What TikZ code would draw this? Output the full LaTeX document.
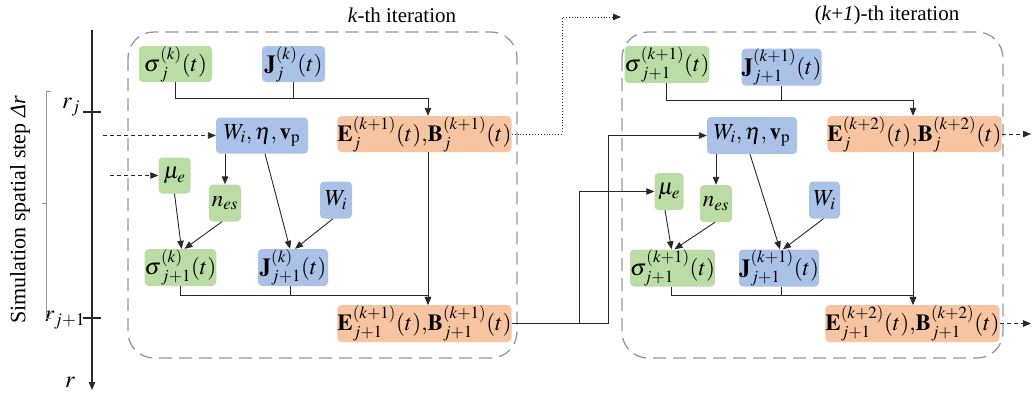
\documentclass[tikz,border=0pt]{standalone}
\usepackage{amsmath}
\usepackage{mathptmx}
\usepackage[no-math]{fontspec}
\setmainfont{Liberation Serif}
\usetikzlibrary{arrows.meta}
\definecolor{gfill}{RGB}{188,220,166}
\definecolor{bfill}{RGB}{170,194,232}
\definecolor{ofill}{RGB}{247,196,162}
\definecolor{lcol}{RGB}{40,40,40}
\definecolor{pcol}{RGB}{150,150,150}
\begin{document}
\begin{tikzpicture}[x=1pt,y=-1pt,
  every node/.style={font=\fontsize{21}{25}\selectfont, inner sep=0pt},
  bx/.style={rounded corners=4pt, draw=none, inner sep=0pt, font=\fontsize{23}{27}\selectfont},
  gbox/.style={bx, fill=gfill},
  bbox/.style={bx, fill=bfill},
  obox/.style={bx, fill=ofill},
  line/.style={draw=lcol, line width=0.9pt},
  arr/.style={line, -{Triangle[length=8pt,width=6.5pt]}},
  dasharr/.style={draw=lcol, line width=0.9pt, dash pattern=on 4pt off 3pt, -{Triangle[length=8pt,width=6.5pt]}},
  dotarr/.style={draw=lcol, line width=0.9pt, dotted, -{Triangle[length=8pt,width=6.5pt]}},
  panel/.style={draw=pcol, line width=1.3pt, dash pattern=on 13pt off 7pt, rounded corners=26pt}]
\useasboundingbox (0,0) rectangle (1033,400);

% panels
\draw[panel] (128,32) rectangle (517,358);
\draw[panel] (622,32) rectangle (1003,358);
\node (t1) at (402,15) {\textit{k}-th iteration};
\node (t2) at (887,15) {(\textit{k}+\textit{1})-th iteration};

% axis
\coordinate (ax0) at (92,30);
\coordinate (ax1) at (92,390);
\draw[arr, line width=1.3pt] (ax0) -- (ax1);
\draw[line, line width=1.3pt] (83,112) -- (101,112);
\draw[line, line width=1.3pt] (83,318) -- (101,318);
\node[font=\fontsize{24}{28}\selectfont] (rj) at (71,107) {$r_j$};
\node[font=\fontsize{24}{28}\selectfont] (rj1) at (65,320) {$r_{j+1}$};
\node[font=\fontsize{24}{28}\selectfont] (rr) at (70,382) {$r$};
\draw[pcol, line width=0.9pt] (51,91) -- (46,91) -- (46,318) -- (51,318);
\draw[pcol, line width=0.9pt] (46,203) -- (42,203);
\node[rotate=90, font=\fontsize{22}{26}\selectfont] (lab) at (20,210) {Simulation spatial step \textit{Δr}};

% left panel nodes
\node[gbox, minimum width=73pt, minimum height=36pt] (s1) at (175.5,64) {$\boldsymbol{\sigma}^{(k)}_{j}(t)$};
\node[bbox, minimum width=63pt, minimum height=36pt] (j1) at (293.5,64) {$\mathbf{J}^{(k)}_{j}(t)$};
\node[obox, minimum width=165pt, minimum height=36pt] (e1) at (424.5,134) {$\mathbf{E}^{(k+1)}_{j}(t){,}\mathbf{B}^{(k+1)}_{j}(t)$};
\node[bbox, minimum width=92pt, minimum height=36pt] (w1) at (262,135.5) {$W_i,\eta,\mathbf{v}_{\mathrm{p}}$};
\node[gbox, minimum width=32pt, minimum height=36pt] (mu1) at (174.5,175.5) {$\mu_{e}$};
\node[gbox, minimum width=32pt, minimum height=37pt] (n1) at (225,203) {$n_{es}$};
\node[bbox, minimum width=32pt, minimum height=37pt] (wi1) at (336,200) {$W_i$};
\node[gbox, minimum width=69pt, minimum height=37pt] (s2) at (180.5,267.5) {$\boldsymbol{\sigma}^{(k)}_{j+1}(t)$};
\node[bbox, minimum width=70pt, minimum height=37pt] (j2) at (293,267.5) {$\mathbf{J}^{(k)}_{j+1}(t)$};
\node[obox, minimum width=165pt, minimum height=37pt] (e2) at (424.5,323.5) {$\mathbf{E}^{(k+1)}_{j+1}(t){,}\mathbf{B}^{(k+1)}_{j+1}(t)$};

% left panel connectors
\coordinate (h1) at (428,98);
\coordinate (h2) at (428,295);
\draw[arr] (s1.south) |- (h1) -- (h1 |- e1.north);
\draw[line] (j1.south) -- (j1.south |- h1);
\coordinate (in1) at (103,135.5);
\coordinate (in2) at (110,175.5);
\draw[dasharr] (in1) -- (w1.west);
\draw[dasharr] (in2) -- (mu1.west);
\draw[arr] (w1.south -| n1.north) -- (n1.north);
\draw[arr] ([xshift=3pt]w1.south) -- ([xshift=-3pt]j2.north);
\draw[arr] (mu1.south) -- ([xshift=1pt]s2.north);
\draw[arr] ([xshift=-3pt]n1.south) -- ([xshift=4pt]s2.north);
\draw[arr] ([xshift=-3pt]wi1.south) -- ([xshift=2pt]j2.north);
\draw[arr] (h1 |- e1.south) -- (h1 |- e2.north);
\draw[arr] (s2.south) |- (h2) -- (h2 |- e2.north);
\draw[line] ([xshift=-3pt]j2.south) -- ([xshift=-3pt]j2.south |- h2);

% right panel nodes
\node[gbox, minimum width=72pt, minimum height=37pt] (s3) at (667,64.5) {$\boldsymbol{\sigma}^{(k+1)}_{j+1}(t)$};
\node[bbox, minimum width=72pt, minimum height=37pt] (j3) at (781.5,67) {$\mathbf{J}^{(k+1)}_{j+1}(t)$};
\node[obox, minimum width=161pt, minimum height=36pt] (e3) at (914.5,134) {$\mathbf{E}^{(k+2)}_{j}(t){,}\mathbf{B}^{(k+2)}_{j}(t)$};
\node[bbox, minimum width=90pt, minimum height=37pt] (w3) at (752,135.5) {$W_i,\eta,\mathbf{v}_{\mathrm{p}}$};
\node[gbox, minimum width=29pt, minimum height=37pt] (mu3) at (669,191.5) {$\mu_{e}$};
\node[gbox, minimum width=32pt, minimum height=37pt] (n3) at (716,203.5) {$n_{es}$};
\node[bbox, minimum width=31pt, minimum height=37pt] (wi3) at (824.5,200) {$W_i$};
\node[gbox, minimum width=81pt, minimum height=37pt] (s4) at (672.5,268) {$\sigma^{(k+1)}_{j+1}(t)$};
\node[bbox, minimum width=74pt, minimum height=37pt] (j4) at (779,268) {$\mathbf{J}^{(k+1)}_{j+1}(t)$};
\node[obox, minimum width=165pt, minimum height=37pt] (e4) at (912.5,323.5) {$\mathbf{E}^{(k+2)}_{j+1}(t){,}\mathbf{B}^{(k+2)}_{j+1}(t)$};

% right panel connectors
\coordinate (h3) at (913,100);
\coordinate (h4) at (913,295);
\draw[arr] ([xshift=-1pt]s3.south) |- (h3) -- (h3 |- e3.north);
\draw[line] (j3.south) -- (j3.south |- h3);
\draw[arr] (w3.south -| n3.north) -- (n3.north);
\draw[arr] ([xshift=-2pt]w3.south) -- ([xshift=1pt]j4.north);
\draw[arr] ([xshift=-4pt]mu3.south) -- ([xshift=-1pt]s4.north);
\draw[arr] ([xshift=-1pt]n3.south) -- ([xshift=2pt]s4.north);
\draw[arr] ([xshift=-1pt]wi3.south) -- ([xshift=4pt]j4.north);
\draw[arr] (h3 |- e3.south) -- (h4 |- e4.north);
\draw[arr] ([xshift=-1pt]s4.south) |- (h4) -- (h4 |- e4.north);
\draw[line] ([xshift=2pt]j4.south) -- ([xshift=2pt]j4.south |- h4);
\coordinate (o1) at (1031,134);
\coordinate (o2) at (1031,323.5);
\draw[dasharr] (e3.east) -- (o1);
\draw[dasharr] (e4.east) -- (o2);

% between panels
\coordinate (d1) at (562,17);
\coordinate (d2) at (621,17);
\draw[dotarr] (e1.east) -| (d1) -- (d2);
\coordinate (v1) at (579,191.5);
\coordinate (v2) at (608,135.5);
\draw[arr] (e2.east) -| (v1) -- (mu3.west);
\draw[arr] (e2.east) -| (v2) -- (w3.west);
\end{tikzpicture}
\end{document}
